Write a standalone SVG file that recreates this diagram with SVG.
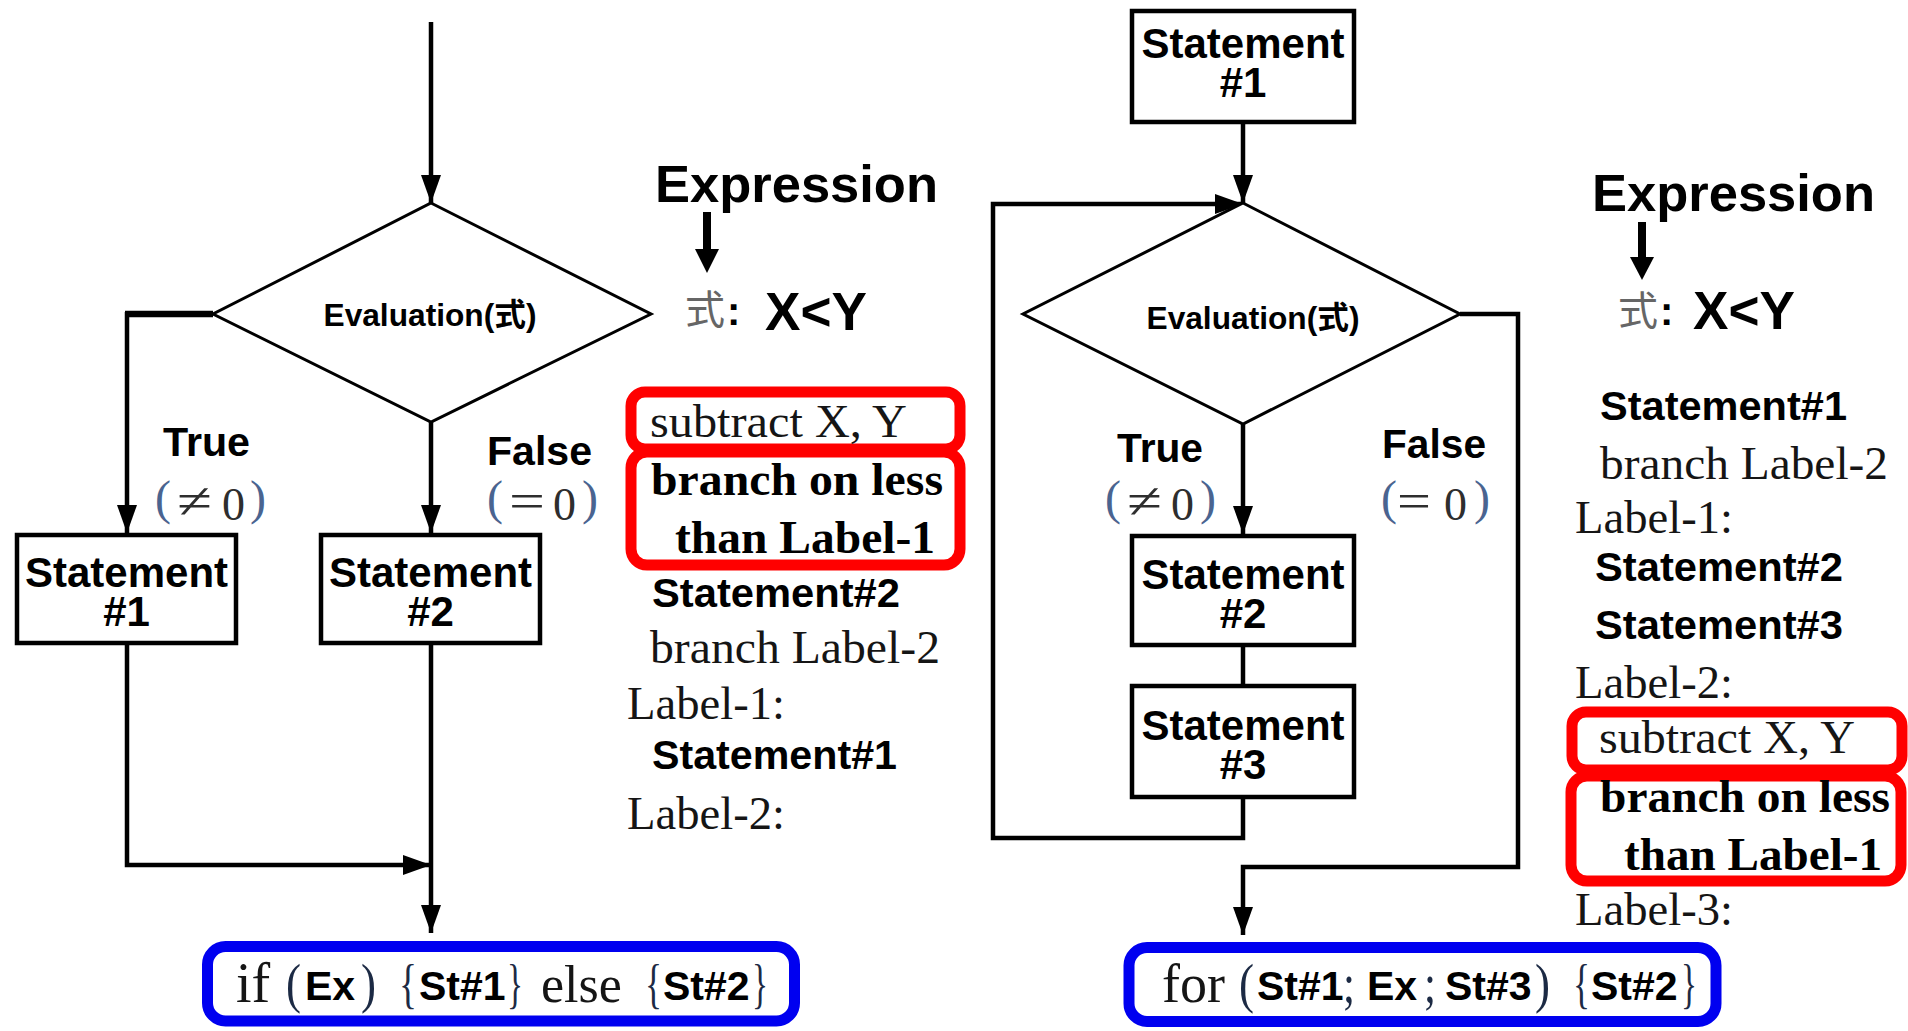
<svg xmlns="http://www.w3.org/2000/svg" width="1908" height="1031" viewBox="0 0 1908 1031">
  <defs>
    <marker id="arrow" viewBox="0 0 28 20" refX="28" refY="10" markerWidth="28" markerHeight="20" markerUnits="userSpaceOnUse" orient="auto">
      <path d="M0,0 L28,10 L0,20 Z" fill="#000"/>
    </marker>
    <style>
      .box { fill: #fff; stroke: #000; stroke-width: 4.5; }
      .dia { fill: #fff; stroke: #000; stroke-width: 3; }
      .wire { fill: none; stroke: #000; stroke-width: 4.5; }
      .hl-red { fill: none; stroke: #ff0000; stroke-width: 11; }
      .hl-blue { fill: none; stroke: #0000f0; stroke-width: 11; }
      .sb { font-family: "Liberation Sans", "Noto Sans CJK JP", sans-serif; font-weight: bold; fill: #000; }
      .lbl { font-size: 42px; text-anchor: middle; }
      .eval { font-size: 32px; text-anchor: middle; }
      .sr { font-family: "Liberation Serif", "Noto Sans CJK JP", serif; fill: #151515; }
      .srb { font-family: "Liberation Serif", serif; font-weight: bold; fill: #000; }
      .math { font-family: "Liberation Serif", "DejaVu Serif", serif; fill: #2e2e2e; }
      .par { font-family: "Liberation Serif", serif; font-size: 48px; fill: #4a6490; }
      .brk { font-family: "Liberation Serif", serif; font-size: 54px; fill: #1c2a44; }
      .kanji { font-family: "Noto Sans CJK JP", sans-serif; font-size: 40px; fill: #666; }
    </style>
  </defs>

  <!-- ============ if / else flowchart ============ -->
  <g id="connectors-if">
    <line class="wire" x1="431" y1="22" x2="431" y2="203" marker-end="url(#arrow)"/>
    <line x1="213" y1="314" x2="125" y2="314" stroke="#000" stroke-width="6.5"/>
    <path class="wire" d="M127,312 V533" marker-end="url(#arrow)"/>
    <path class="wire" d="M431,422 V533" marker-end="url(#arrow)"/>
    <path class="wire" d="M127,645 V865 H431" marker-end="url(#arrow)"/>
    <path class="wire" d="M431,645 V933" marker-end="url(#arrow)"/>
  </g>

  <g id="if-eval">
    <polygon class="dia" points="431,203 651,314 431,422 213,314"/>
    <text class="sb eval" x="430" y="326" textLength="213" lengthAdjust="spacingAndGlyphs">Evaluation(式)</text>
  </g>
  <g id="if-st1">
    <rect class="box" x="17" y="535" width="219" height="108"/>
    <text class="sb lbl" x="126.5" y="587">Statement</text>
    <text class="sb lbl" x="126.5" y="626">#1</text>
  </g>
  <g id="if-st2">
    <rect class="box" x="321" y="535" width="219" height="108"/>
    <text class="sb lbl" x="430.5" y="587">Statement</text>
    <text class="sb lbl" x="430.5" y="626">#2</text>
  </g>

  <g id="if-branch-labels">
    <text class="sb" x="163" y="456" font-size="41" textLength="87" lengthAdjust="spacingAndGlyphs">True</text>
    <text class="par" x="155" y="514">(</text>
    <text class="math" x="177" y="518" font-size="50" textLength="35" lengthAdjust="spacingAndGlyphs">≠</text>
    <text class="math" x="222" y="520" font-size="46">0</text>
    <text class="par" x="250" y="514">)</text>
    <text class="sb" x="487" y="465" font-size="41" textLength="105" lengthAdjust="spacingAndGlyphs">False</text>
    <text class="par" x="487" y="514">(</text>
    <text class="math" x="509" y="518" font-size="50" textLength="36" lengthAdjust="spacingAndGlyphs">=</text>
    <text class="math" x="553" y="520" font-size="46">0</text>
    <text class="par" x="582" y="514">)</text>
  </g>

  <!-- assembly listing for if / else -->
  <g id="if-asm">
    <text class="sb" x="655" y="202" font-size="52" textLength="283" lengthAdjust="spacingAndGlyphs">Expression</text>
    <line x1="707" y1="212" x2="707" y2="252" stroke="#000" stroke-width="8"/>
    <polygon points="695,249 719,249 707,273" fill="#000"/>
    <text class="kanji" x="685" y="324">式</text>
    <text class="sb" x="727" y="325" font-size="40">:</text>
    <text class="sb" x="765" y="330" font-size="53" textLength="102" lengthAdjust="spacingAndGlyphs">X&lt;Y</text>

    <rect class="hl-red" x="631" y="392" width="329" height="57" rx="14"/>
    <rect class="hl-red" x="631" y="452" width="329" height="113" rx="16"/>
    <text class="sr" x="650" y="437" font-size="46" textLength="257" lengthAdjust="spacingAndGlyphs">subtract X, Y</text>
    <text class="srb" x="651" y="495" font-size="46" textLength="292" lengthAdjust="spacingAndGlyphs">branch on less</text>
    <text class="srb" x="675" y="553" font-size="46" textLength="260" lengthAdjust="spacingAndGlyphs">than Label-1</text>
    <text class="sb" x="652" y="607" font-size="41" textLength="248" lengthAdjust="spacingAndGlyphs">Statement#2</text>
    <text class="sr" x="650" y="663" font-size="46" textLength="290" lengthAdjust="spacingAndGlyphs">branch Label-2</text>
    <text class="sr" x="627" y="719" font-size="46" textLength="158" lengthAdjust="spacingAndGlyphs">Label-1:</text>
    <text class="sb" x="652" y="769" font-size="41" textLength="245" lengthAdjust="spacingAndGlyphs">Statement#1</text>
    <text class="sr" x="627" y="829" font-size="46" textLength="158" lengthAdjust="spacingAndGlyphs">Label-2:</text>
  </g>

  <g id="if-code">
    <rect class="hl-blue" x="207.5" y="946.5" width="587" height="74.5" rx="18"/>
    <text class="sr" x="236" y="1002" font-size="56">if</text>
    <text class="brk" x="286" y="1002" textLength="15" lengthAdjust="spacingAndGlyphs">(</text>
    <text class="sb" x="305" y="1000" font-size="41">Ex</text>
    <text class="brk" x="361" y="1002" textLength="15" lengthAdjust="spacingAndGlyphs">)</text>
    <text class="brk" x="399" y="1002" textLength="18" lengthAdjust="spacingAndGlyphs">{</text>
    <text class="sb" x="419" y="1000" font-size="41">St#1</text>
    <text class="brk" x="507" y="1002" textLength="16" lengthAdjust="spacingAndGlyphs">}</text>
    <text class="sr" x="541" y="1002" font-size="52">else</text>
    <text class="brk" x="645" y="1002" textLength="17" lengthAdjust="spacingAndGlyphs">{</text>
    <text class="sb" x="663" y="1000" font-size="41">St#2</text>
    <text class="brk" x="752" y="1002" textLength="16" lengthAdjust="spacingAndGlyphs">}</text>
  </g>

  <!-- ============ for-loop flowchart ============ -->
  <g id="connectors-for">
    <line class="wire" x1="1243" y1="124" x2="1243" y2="203" marker-end="url(#arrow)"/>
    <path class="wire" d="M1243,799 V838 H993 V204 H1243" marker-end="url(#arrow)"/>
    <path class="wire" d="M1243,424 V534" marker-end="url(#arrow)"/>
    <line class="wire" x1="1243" y1="647" x2="1243" y2="684"/>
    <path class="wire" d="M1460,314 H1518 V867 H1243 V935" marker-end="url(#arrow)"/>
  </g>

  <g id="for-st1">
    <rect class="box" x="1132" y="11" width="222" height="111"/>
    <text class="sb lbl" x="1243" y="58">Statement</text>
    <text class="sb lbl" x="1243" y="97">#1</text>
  </g>
  <g id="for-eval">
    <polygon class="dia" points="1243,203 1460,314 1243,424 1023,314"/>
    <text class="sb eval" x="1253" y="329" textLength="213" lengthAdjust="spacingAndGlyphs">Evaluation(式)</text>
  </g>
  <g id="for-st2">
    <rect class="box" x="1132" y="536" width="222" height="109"/>
    <text class="sb lbl" x="1243" y="589">Statement</text>
    <text class="sb lbl" x="1243" y="628">#2</text>
  </g>
  <g id="for-st3">
    <rect class="box" x="1132" y="686" width="222" height="111"/>
    <text class="sb lbl" x="1243" y="740">Statement</text>
    <text class="sb lbl" x="1243" y="779">#3</text>
  </g>

  <g id="for-branch-labels">
    <text class="sb" x="1117" y="462" font-size="41" textLength="86" lengthAdjust="spacingAndGlyphs">True</text>
    <text class="par" x="1105" y="514">(</text>
    <text class="math" x="1127" y="518" font-size="50" textLength="35" lengthAdjust="spacingAndGlyphs">≠</text>
    <text class="math" x="1171" y="520" font-size="46">0</text>
    <text class="par" x="1200" y="514">)</text>
    <text class="sb" x="1382" y="458" font-size="41" textLength="104" lengthAdjust="spacingAndGlyphs">False</text>
    <text class="par" x="1381" y="514">(</text>
    <text class="math" x="1397" y="518" font-size="50" textLength="34" lengthAdjust="spacingAndGlyphs">=</text>
    <text class="math" x="1444" y="520" font-size="46">0</text>
    <text class="par" x="1474" y="514">)</text>
  </g>

  <!-- assembly listing for the loop -->
  <g id="for-asm">
    <text class="sb" x="1592" y="211" font-size="52" textLength="283" lengthAdjust="spacingAndGlyphs">Expression</text>
    <line x1="1642" y1="222" x2="1642" y2="260" stroke="#000" stroke-width="8"/>
    <polygon points="1630,257 1654,257 1642,280" fill="#000"/>
    <text class="kanji" x="1618" y="325">式</text>
    <text class="sb" x="1660" y="325" font-size="40">:</text>
    <text class="sb" x="1693" y="329" font-size="53" textLength="102" lengthAdjust="spacingAndGlyphs">X&lt;Y</text>

    <text class="sb" x="1600" y="420" font-size="41" textLength="247" lengthAdjust="spacingAndGlyphs">Statement#1</text>
    <text class="sr" x="1600" y="479" font-size="46" textLength="288" lengthAdjust="spacingAndGlyphs">branch Label-2</text>
    <text class="sr" x="1575" y="533" font-size="46" textLength="158" lengthAdjust="spacingAndGlyphs">Label-1:</text>
    <text class="sb" x="1595" y="581" font-size="41" textLength="248" lengthAdjust="spacingAndGlyphs">Statement#2</text>
    <text class="sb" x="1595" y="639" font-size="41" textLength="248" lengthAdjust="spacingAndGlyphs">Statement#3</text>
    <text class="sr" x="1575" y="698" font-size="46" textLength="158" lengthAdjust="spacingAndGlyphs">Label-2:</text>

    <rect class="hl-red" x="1572" y="712" width="330" height="58" rx="14"/>
    <rect class="hl-red" x="1571" y="776" width="330" height="105" rx="16"/>
    <text class="sr" x="1599" y="753" font-size="46" textLength="256" lengthAdjust="spacingAndGlyphs">subtract X, Y</text>
    <text class="srb" x="1600" y="812" font-size="46" textLength="290" lengthAdjust="spacingAndGlyphs">branch on less</text>
    <text class="srb" x="1624" y="870" font-size="46" textLength="258" lengthAdjust="spacingAndGlyphs">than Label-1</text>
    <text class="sr" x="1575" y="925" font-size="46" textLength="158" lengthAdjust="spacingAndGlyphs">Label-3:</text>
  </g>

  <g id="for-code">
    <rect class="hl-blue" x="1129" y="947.5" width="587" height="74" rx="18"/>
    <text class="sr" x="1162" y="1002" font-size="54">for</text>
    <text class="brk" x="1239" y="1002" textLength="15" lengthAdjust="spacingAndGlyphs">(</text>
    <text class="sb" x="1257" y="1000" font-size="41">St#1</text>
    <text class="brk" x="1343" y="1002" textLength="12" lengthAdjust="spacingAndGlyphs">;</text>
    <text class="sb" x="1367" y="1000" font-size="41">Ex</text>
    <text class="brk" x="1424" y="1002" textLength="12" lengthAdjust="spacingAndGlyphs">;</text>
    <text class="sb" x="1445" y="1000" font-size="41">St#3</text>
    <text class="brk" x="1535" y="1002" textLength="15" lengthAdjust="spacingAndGlyphs">)</text>
    <text class="brk" x="1573" y="1002" textLength="17" lengthAdjust="spacingAndGlyphs">{</text>
    <text class="sb" x="1591" y="1000" font-size="41">St#2</text>
    <text class="brk" x="1681" y="1002" textLength="16" lengthAdjust="spacingAndGlyphs">}</text>
  </g>
</svg>
